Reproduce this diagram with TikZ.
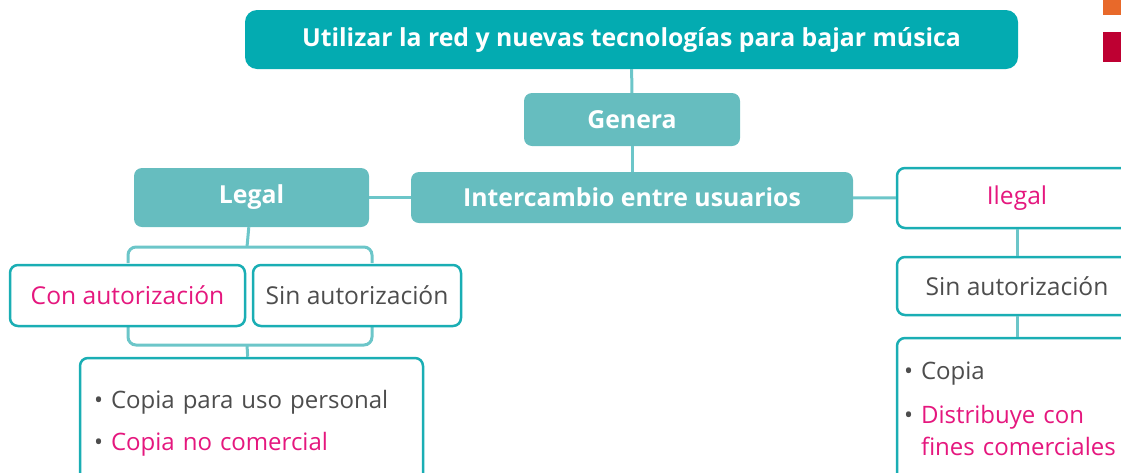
\documentclass[tikz,border=0pt]{standalone}
\usepackage{fontspec}
\setmainfont{Open Sans}
\definecolor{tealdark}{HTML}{03ABB1}
\definecolor{teallight}{HTML}{66BDBF}
\definecolor{tealline}{HTML}{1AAEB4}
\definecolor{tealcon}{HTML}{6CC6C9}
\definecolor{rosa}{HTML}{E5177E}
\definecolor{gris}{HTML}{4D4D4D}
\definecolor{naranja}{HTML}{E8692A}
\definecolor{carmin}{HTML}{BE0032}
\begin{document}
\begin{tikzpicture}[x=1pt,y=-1pt,
        titulo/.style={fill=tealdark,rounded corners=12pt,text=white,
            font=\fontsize{24.8}{30}\selectfont\bfseries,inner sep=0pt},
        caja/.style={fill=teallight,rounded corners=8pt,text=white,
            font=\fontsize{24.8}{30}\selectfont\bfseries,inner sep=0pt},
        marco/.style={draw=tealline,line width=2.5pt,fill=white,rounded corners=8pt,
            font=\fontsize{24.6}{30}\selectfont,inner sep=0pt},
        lista/.style={marco,align=left,text=gris,
            font=\fontsize{24}{32}\selectfont},
        enlace/.style={draw=tealcon,line width=3pt},
        llave/.style={draw=tealcon,line width=3pt,rounded corners=8pt}]
        \clip (0,0) rectangle (1121,472);
        \fill [color=naranja] (1103,0) rectangle (1121,15);
        \fill [color=carmin] (1103,32) rectangle (1121,62);

        \coordinate (a1) at (247,247);
        \coordinate (a2) at (247,345);
        \draw [llave] (128,263) -- (128,247) -- (372,247) -- (372,263);
        \draw [llave] (128,326) -- (128,345) -- (372,345) -- (372,326);

        \node (red) [titulo,minimum width=773,minimum height=59] at (631.5,39.5)
            {Utilizar la red y nuevas tecnologías para bajar música};
        \node (genera) [caja,minimum width=216,minimum height=53] at (632,119.5) {Genera};
        \node (inter) [caja,minimum width=442,minimum height=51] at (632,197.5)
            {Intercambio entre usuarios};
        \node (legal) [caja,minimum width=235,minimum height=59] at (251.5,197.5) {Legal};
        \node (ilegal) [marco,text=rosa,minimum width=240,minimum height=60] at (1017,198) {Ilegal};
        \node (sinR) [marco,text=gris,minimum width=240,minimum height=58] at (1017,286)
            {Sin autorización};
        \node (con) [marco,text=rosa,minimum width=235,minimum height=61] at (127.5,295.5)
            {Con autorización};
        \node (sinL) [marco,text=gris,minimum width=208,minimum height=61] at (357,295.5)
            {Sin autorización};
        \node (listaL) [lista,inner xsep=14pt,text width=315,minimum height=130] at (251.5,423)
            {\textbullet\ Copia para uso personal\\[10pt]
             \textbullet\ \textcolor{rosa}{Copia no comercial}};
        \node (listaR) [lista,inner xsep=7pt,text width=226,minimum height=142] at (1017,409)
            {\textbullet\ Copia\\[12pt]
             \textbullet\ \textcolor{rosa}{Distribuye con}\\
             \phantom{\textbullet}\ \textcolor{rosa}{fines comerciales}};

        \draw [enlace] (red) -- (genera);
        \draw [enlace] (genera) -- (inter);
        \draw [enlace] (inter) -- (legal);
        \draw [enlace] (inter) -- (ilegal);
        \draw [enlace] (ilegal) -- (sinR);
        \draw [enlace] (sinR) -- (listaR);
        \draw [enlace] (legal) -- (a1);
        \draw [enlace] (a2) -- (listaL);
    \end{tikzpicture}
\end{document}
